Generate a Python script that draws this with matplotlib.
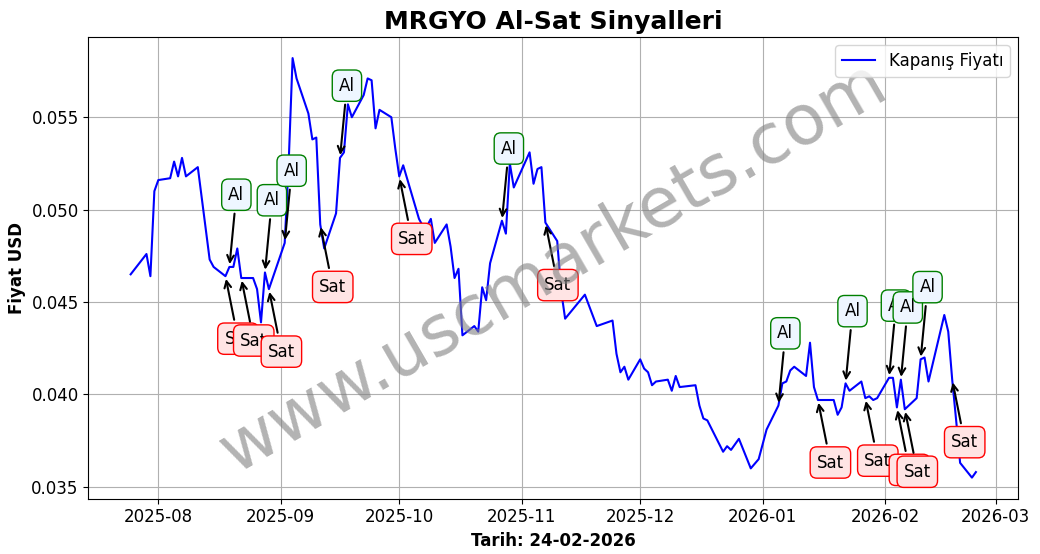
import pandas as pd
import matplotlib
matplotlib.use("Agg")
import matplotlib.pyplot as plt

# closing prices
dates = ["2025-07-25", "2025-07-29", "2025-07-30", "2025-07-31", "2025-08-01", "2025-08-04",
         "2025-08-05", "2025-08-06", "2025-08-07", "2025-08-08", "2025-08-11", "2025-08-14",
         "2025-08-15", "2025-08-18", "2025-08-19", "2025-08-20", "2025-08-21", "2025-08-22",
         "2025-08-25", "2025-08-26", "2025-08-27", "2025-08-28", "2025-08-29", "2025-09-02",
         "2025-09-03", "2025-09-04", "2025-09-05", "2025-09-08", "2025-09-09", "2025-09-10",
         "2025-09-11", "2025-09-12", "2025-09-15", "2025-09-16", "2025-09-17", "2025-09-18",
         "2025-09-19", "2025-09-22", "2025-09-23", "2025-09-24", "2025-09-25", "2025-09-26",
         "2025-09-29", "2025-09-30", "2025-10-01", "2025-10-02", "2025-10-06", "2025-10-07",
         "2025-10-08", "2025-10-09", "2025-10-10", "2025-10-13", "2025-10-14", "2025-10-15",
         "2025-10-16", "2025-10-17", "2025-10-20", "2025-10-21", "2025-10-22", "2025-10-23",
         "2025-10-24", "2025-10-27", "2025-10-28", "2025-10-29", "2025-10-30", "2025-11-03",
         "2025-11-04", "2025-11-05", "2025-11-06", "2025-11-07", "2025-11-10", "2025-11-11",
         "2025-11-12", "2025-11-17", "2025-11-20", "2025-11-24", "2025-11-25", "2025-11-26",
         "2025-11-27", "2025-11-28", "2025-12-01", "2025-12-02", "2025-12-03", "2025-12-04",
         "2025-12-05", "2025-12-08", "2025-12-09", "2025-12-10", "2025-12-11", "2025-12-15",
         "2025-12-16", "2025-12-17", "2025-12-18", "2025-12-22", "2025-12-23", "2025-12-24",
         "2025-12-26", "2025-12-29", "2025-12-31", "2026-01-02", "2026-01-05", "2026-01-06",
         "2026-01-07", "2026-01-08", "2026-01-09", "2026-01-12", "2026-01-13", "2026-01-14",
         "2026-01-15", "2026-01-19", "2026-01-20", "2026-01-21", "2026-01-22", "2026-01-23",
         "2026-01-26", "2026-01-27", "2026-01-28", "2026-01-29", "2026-01-30", "2026-02-02",
         "2026-02-03", "2026-02-04", "2026-02-05", "2026-02-06", "2026-02-09", "2026-02-10",
         "2026-02-11", "2026-02-12", "2026-02-16", "2026-02-17", "2026-02-18", "2026-02-19",
         "2026-02-20", "2026-02-23", "2026-02-24"]
prices = [0.0465, 0.0476, 0.0464, 0.0510, 0.0516, 0.0517,
          0.0526, 0.0518, 0.0528, 0.0518, 0.0523, 0.0473,
          0.0469, 0.0464, 0.0469, 0.0469, 0.0479, 0.0463,
          0.0463, 0.0457, 0.0439, 0.0466, 0.0457, 0.0482,
          0.0525, 0.0582, 0.0571, 0.0552, 0.0538, 0.0539,
          0.0492, 0.0479, 0.0498, 0.0528, 0.0531, 0.0557,
          0.0550, 0.0562, 0.0571, 0.0570, 0.0544, 0.0554,
          0.0550, 0.0533, 0.0518, 0.0524, 0.0495, 0.0491,
          0.0491, 0.0495, 0.0482, 0.0492, 0.0480, 0.0463,
          0.0468, 0.0432, 0.0437, 0.0434, 0.0458, 0.0451,
          0.0471, 0.0494, 0.0487, 0.0525, 0.0512, 0.0531,
          0.0514, 0.0522, 0.0523, 0.0493, 0.0483, 0.0456,
          0.0441, 0.0454, 0.0437, 0.0440, 0.0422, 0.0412,
          0.0415, 0.0408, 0.0419, 0.0414, 0.0412, 0.0405,
          0.0407, 0.0408, 0.0402, 0.0410, 0.0404, 0.0405,
          0.0394, 0.0387, 0.0386, 0.0369, 0.0372, 0.0370,
          0.0376, 0.0360, 0.0365, 0.0381, 0.0394, 0.0406,
          0.0407, 0.0413, 0.0415, 0.0410, 0.0428, 0.0404,
          0.0397, 0.0397, 0.0389, 0.0393, 0.0406, 0.0402,
          0.0407, 0.0398, 0.0399, 0.0397, 0.0398, 0.0409,
          0.0409, 0.0393, 0.0408, 0.0392, 0.0398, 0.0419,
          0.0420, 0.0407, 0.0443, 0.0434, 0.0408, 0.0386,
          0.0363, 0.0355, 0.0358]

buy_dates = ["2025-08-19", "2025-08-28", "2025-09-02", "2025-09-16", "2025-10-27",
             "2026-01-05", "2026-01-22", "2026-02-02", "2026-02-05", "2026-02-10"]
sell_dates = ["2025-08-18", "2025-08-22", "2025-08-29", "2025-09-11", "2025-10-01",
              "2025-11-07", "2026-01-15", "2026-01-27", "2026-02-04", "2026-02-06", "2026-02-18"]

s = pd.Series(prices, index=pd.to_datetime(dates))

fig, ax = plt.subplots(figsize=(10.4, 5.54), dpi=100)
ax.plot(s.index, s.values, color="blue", label="Kapanış Fiyatı")

for d in buy_dates:
    t = pd.Timestamp(d)
    ax.annotate("Al", xy=(t, s[t]), xytext=(5, 52), textcoords="offset points",
                ha="center", va="center", fontsize=12,
                bbox=dict(boxstyle="round,pad=0.4", fc="#eef6ff", ec="green"),
                arrowprops=dict(arrowstyle="->", color="black", lw=1.5))
for d in sell_dates:
    t = pd.Timestamp(d)
    ax.annotate("Sat", xy=(t, s[t]), xytext=(9, -45), textcoords="offset points",
                ha="center", va="center", fontsize=12,
                bbox=dict(boxstyle="round,pad=0.4", fc="#ffe4e4", ec="red"),
                arrowprops=dict(arrowstyle="->", color="black", lw=1.5))

ax.text(0.5, 0.5, "www.uscmarkets.com", transform=ax.transAxes, fontsize=50,
        color="gray", alpha=0.6, rotation=30, ha="center", va="center")

ax.set_title("MRGYO Al-Sat Sinyalleri", fontsize=18, fontweight="bold")
ax.set_xlabel("Tarih: 24-02-2026", fontsize=12, fontweight="bold")
ax.set_ylabel("Fiyat USD", fontsize=12, fontweight="bold")
ax.tick_params(labelsize=12)
ax.grid(True)
ax.legend(loc="upper right", fontsize=12)
fig.subplots_adjust(left=0.085, right=0.979, top=0.933, bottom=0.1)
fig.savefig("out.png")
